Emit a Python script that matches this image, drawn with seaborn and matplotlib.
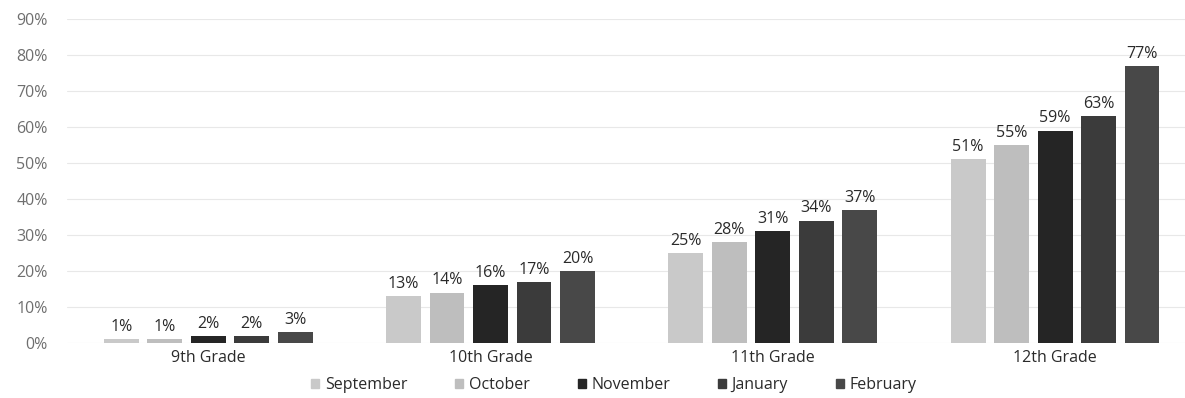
import pandas as pd
import seaborn as sns
import matplotlib.pyplot as plt

# данные
grades = ['9th Grade', '10th Grade', '11th Grade', '12th Grade']
months = ['September', 'October', 'November', 'January', 'February']
september = [1, 13, 25, 51]
october = [1, 14, 28, 55]
november = [2, 16, 31, 59]
january = [2, 17, 34, 63]
february = [3, 20, 37, 77]
y_ticks = [0, 10, 20, 30, 40, 50, 60, 70, 80, 90]

colors = ['#c9c9c9', '#bebebe', '#252525', '#3b3b3b', '#484848']

# длинный формат для seaborn
series = [september, october, november, january, february]
rows = []
for month, values in zip(months, series):
    for grade, v in zip(grades, values):
        rows.append({'Grade': grade, 'Month': month, 'Value': v})
df = pd.DataFrame(rows)

sns.set_theme(style='white')
plt.rcParams['font.family'] = ['Open Sans', 'DejaVu Sans']

fig = plt.figure(figsize=(11.85, 3.98), dpi=100)
ax = fig.add_axes([67 / 1185, 55 / 398, 1 - 67 / 1185, (343 - 19) / 398])

sns.barplot(data=df, x='Grade', y='Value', hue='Month', order=grades,
            hue_order=months, palette=colors, width=0.77, gap=0.2,
            saturation=1, linewidth=0, legend=False, ax=ax)

for c in ax.containers:
    ax.bar_label(c, fmt='{:.0f}%', padding=3, fontsize=11.5, color='#2a2a2a')

ax.set_xlim(-0.5, 3.46)
ax.set_ylim(0, 90)
ax.set_yticks(y_ticks)
ax.set_yticklabels([f'{t}%' for t in y_ticks], color='#6f6f6f', fontsize=11.5)
ax.tick_params(axis='y', pad=14, length=0)
ax.tick_params(axis='x', length=0, pad=5, labelsize=11.5, labelcolor='#2a2a2a')
ax.yaxis.grid(True, color='#e8e8e8', linewidth=0.8)
ax.set_axisbelow(True)
ax.set_xlabel('')
ax.set_ylabel('')
for s in ax.spines.values():
    s.set_visible(False)

handles = [plt.Rectangle((0, 0), 1, 1, color=c) for c in colors]
fig.legend(handles, months, loc='center', bbox_to_anchor=(614 / 1185, 0.033),
           ncol=5, frameon=False, fontsize=11.5, handlelength=0.5,
           handleheight=0.5, handletextpad=0.35, columnspacing=3.0,
           labelcolor='#2a2a2a')

fig.savefig('out.png', dpi=100)
